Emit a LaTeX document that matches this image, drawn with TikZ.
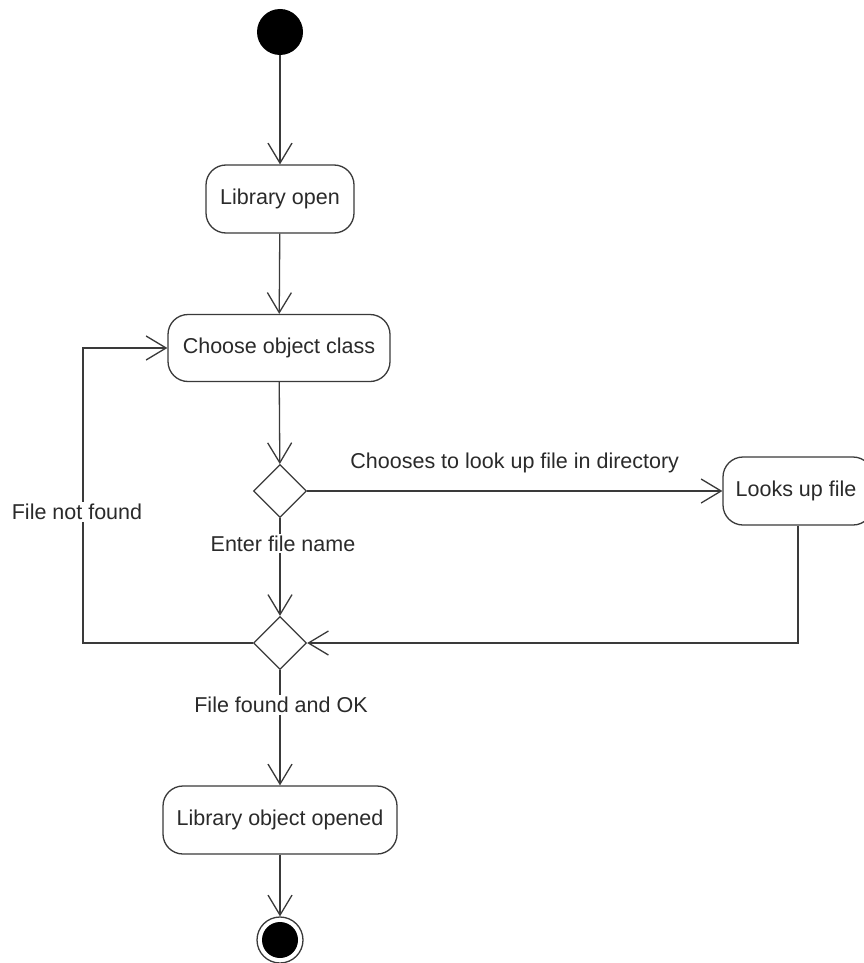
\documentclass[tikz,border=0pt]{standalone}
\usepackage{fontspec}
\setmainfont{Liberation Sans}
\usetikzlibrary{shapes.geometric,arrows.meta}
\definecolor{ln}{HTML}{3A3A3A}
\definecolor{tx}{HTML}{2A2A2A}
\begin{document}
\begin{tikzpicture}[x=1pt,y=-1pt,
  every node/.style={font=\fontsize{21.5}{25}\selectfont, text=tx},
  act/.style={draw=ln, line width=1.3pt, rounded corners=20pt, fill=white, minimum height=68pt, inner sep=0pt},
  dec/.style={draw=ln, line width=1.3pt, diamond, fill=white, minimum width=53pt, minimum height=53pt, inner sep=0pt},
  arr/.style={draw=ln, line width=1.3pt, -{Straight Barb[length=20pt,width=24pt]}},
  lbl/.style={fill=white, inner sep=2pt}
]
\useasboundingbox (0,0) rectangle (863,963);
\node[circle, fill=black, minimum size=46pt, inner sep=0pt] (s) at (280,32) {};
\node[act, minimum width=148pt] (lo) at (280,199) {Library open};
\node[act, minimum width=222pt, minimum height=67pt] (co) at (279,348) {Choose object class};
\node[dec] (d1) at (280,491) {};
\node[act, minimum width=150pt] (lu) at (798,491) {\hspace*{-4pt}Looks up file};
\node[dec] (d2) at (280,643) {};
\node[act, minimum width=234pt] (lob) at (280,820) {Library object opened};
\node[circle, draw=ln, line width=1.3pt, fill=white, minimum size=46pt, inner sep=0pt] (e) at (280,940) {};
\node[circle, fill=black, minimum size=36pt, inner sep=0pt] (ei) at (e.center) {};
\coordinate (c1) at (83,643);
\coordinate (c2) at (83,348);

\draw[arr] (s) -- (lo);
\draw[arr] (lo) -- (co);
\draw[arr] (co) -- (d1);
\draw[arr] (d1.east) -- node[above=17pt, inner sep=0pt] {Chooses to look up file in directory} (lu.west);
\draw[arr] (d1.south) -- node[lbl, pos=0.26, xshift=3pt] {Enter file name} (d2.north);
\draw[arr] (lu.south) |- (d2.east);
\draw[arr] (d2.west) -- (c1) -- node[lbl, pos=0.444, xshift=-6pt] {File not found} (c2) -- (co.west);
\draw[arr] (d2.south) -- node[lbl, pos=0.30, xshift=1pt] {File found and OK} (lob.north);
\draw[arr] (lob) -- (e);
\end{tikzpicture}
\end{document}
